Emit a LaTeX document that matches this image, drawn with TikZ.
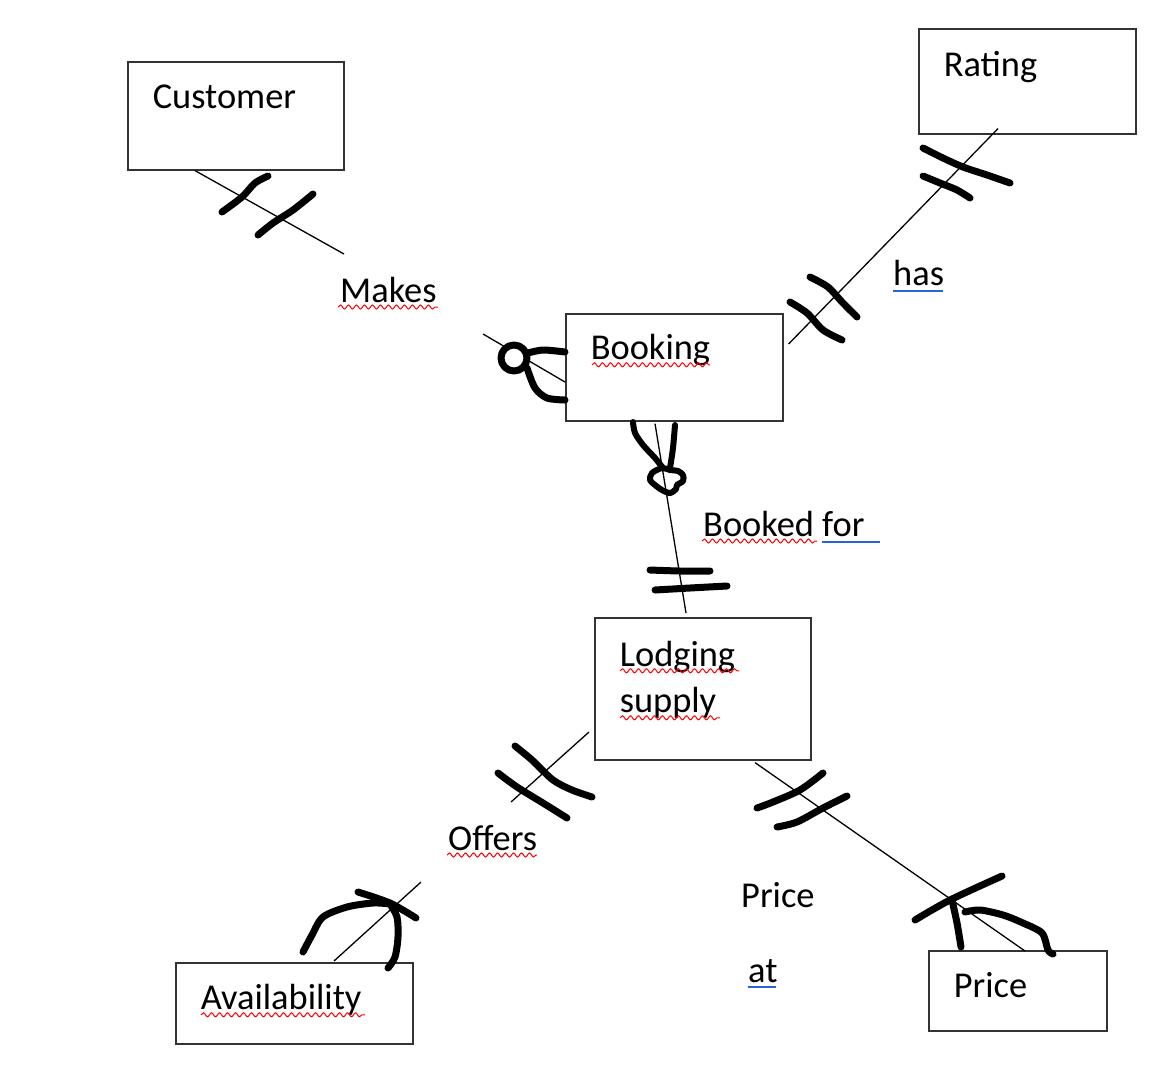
\documentclass[tikz,border=0pt]{standalone}
\usepackage{fontspec}
\setmainfont{Carlito}
\usetikzlibrary{calc,decorations.pathmorphing}
\definecolor{gramblue}{RGB}{40,100,215}

\tikzset{
  entity/.style={draw=black!80, line width=1.6pt, anchor=north west,
    inner xsep=25pt, inner ysep=0pt, align=left,
    font=\fontsize{36.4pt}{46pt}\selectfont},
  txt/.style={anchor=base west, inner sep=0pt, font=\fontsize{36.4pt}{46pt}\selectfont},
  link/.style={line width=1.3pt},
  ink/.style={line width=7pt, line cap=round, line join=round},
  spell/.style={draw=red, line width=1pt, decorate,
    decoration={snake, segment length=8pt, amplitude=2pt}},
  gram/.style={draw=gramblue, line width=1.2pt},
}

\begin{document}
\begin{tikzpicture}[x=1pt, y=-1pt]
    \useasboundingbox (0,0) rectangle (1175,1080);

    % --- Entities ---
    \node[entity, text width=166pt, text height=47pt, text depth=61pt] (cust) at (127,61) {Customer};
    \node[entity, text width=167pt, text height=48pt, text depth=57pt] (rating) at (918,28) {Rating};
    \node[entity, text width=167pt, text height=46pt, text depth=61pt] (book) at (565,313) {Booking};
    \node[entity, text width=166pt, text height=49pt, text depth=93pt] (lodge) at (594,617) {Lodging\\supply};
    \node[entity, text width=187pt, text height=47pt, text depth=34pt] (avail) at (175,962) {Availability};
    \node[entity, text width=128pt, text height=47pt, text depth=33pt] (price) at (928,950) {Price};

    % --- Relationship labels ---
    \node[txt] (makes) at (340,302) {Makes};
    \node[txt] (has) at (893,285) {has};
    \node[txt] (booked) at (703,536) {Booked for};
    \node[txt] (offers) at (448,850) {Offers};
    \node[txt] (pricelbl) at (741,907) {Price};
    \node[txt] (atlbl) at (748,982) {at};

    % --- Underlines ---
    \draw[spell] ($(makes.base west)+(-2,5)$) -- ($(makes.base west)+(98,5)$);
    \draw[spell] ($(book.base west)+(27,5)$) -- ($(book.base west)+(145,5)$);
    \draw[spell] ($(lodge.base west)+(26,4)$) -- ($(lodge.base west)+(145,4)$);
    \draw[spell] ($(lodge.base west)+(26,51)$) -- ($(lodge.base west)+(126,51)$);
    \draw[spell] ($(avail.base west)+(26,5)$) -- ($(avail.base west)+(190,5)$);
    \draw[spell] ($(offers.base west)+(-1,5)$) -- ($(offers.base west)+(89,5)$);
    \draw[spell] ($(booked.base west)+(-1,5)$) -- ($(booked.base west)+(114,5)$);
    \draw[gram] ($(booked.base west)+(119,6)$) -- ($(booked.base west)+(177,6)$);
    \draw[gram] ($(has.base west)+(0,6)$) -- ($(has.base west)+(50,6)$);
    \draw[gram] ($(atlbl.base west)+(0,5)$) -- ($(atlbl.base west)+(28,5)$);

    % --- Connectors ---
    \coordinate (mk1) at (344,254);
    \coordinate (mk2) at (483,334);
    \coordinate (of1) at (511,802);
    \coordinate (of2) at (421,882);
    \draw[link] ($(cust.south west)+(68,0)$) -- (mk1);
    \draw[link] (mk2) -- ($(book.north west)+(0,69)$);
    \draw[link] ($(book.south west)+(90,2)$) -- ($(lodge.north west)+(92,-4)$);
    \draw[link] ($(book.north east)+(5,31)$) -- ($(rating.south west)+(80,-6)$);
    \draw[link] ($(lodge.north west)+(-5,115)$) -- (of1);
    \draw[link] (of2) -- ($(avail.north west)+(159,-1)$);
    \draw[link] ($(lodge.south west)+(161,2)$) -- ($(price.north west)+(97,1)$);

    % --- Customer: one and only one ---
    \draw[ink] plot[smooth] coordinates {(222,212) (242,197) (255,183) (268,176)};
    \draw[ink] plot[smooth] coordinates {(258,235) (273,223) (293,210) (313,194)};

    % --- Booking (left): zero or many ---
    \draw[ink, fill=white] (514,358) circle (13);
    \draw[ink] plot[smooth] coordinates {(528,353) (543,350) (565,352)};
    \draw[ink] plot[smooth] coordinates {(527,368) (535,388) (547,398) (565,400)};

    % --- Booking (bottom): one or many ---
    \draw[ink, line width=6pt] plot[smooth] coordinates {(633,422) (635,433) (643,445) (655,458) (663,468)};
    \draw[ink, line width=6pt] plot[smooth] coordinates {(675,425) (673,448) (670,468)};
    \draw[ink, line width=6pt] plot[smooth cycle] coordinates {(662,468) (652,473) (650,480) (655,485) (662,490) (670,493) (676,489) (677,485) (683,481) (683,475) (678,471) (670,470)};

    % --- Lodging supply (top): one ---
    \draw[ink] plot[smooth] coordinates {(650,570) (680,571) (710,571)};
    \draw[ink] plot[smooth] coordinates {(655,590) (690,588) (727,586)};

    % --- Rating: one and only one ---
    \draw[ink] plot[smooth] coordinates {(923,148) (943,158) (963,167) (987,175) (1010,183)};
    \draw[ink] plot[smooth] coordinates {(923,176) (940,183) (957,190) (970,198)};

    % --- Booking (right): one and only one ---
    \draw[ink] plot[smooth] coordinates {(810,277) (828,287) (842,302) (857,317)};
    \draw[ink] plot[smooth] coordinates {(790,302) (807,313) (823,330) (842,340)};

    % --- Lodging supply (left): one and only one ---
    \draw[ink] plot[smooth] coordinates {(515,746) (532,760) (553,780) (572,790) (592,797)};
    \draw[ink] plot[smooth] coordinates {(498,773) (517,787) (543,803) (567,818)};

    % --- Lodging supply (right): one and only one ---
    \draw[ink] plot[smooth] coordinates {(757,808) (773,802) (800,790) (823,773)};
    \draw[ink] plot[smooth] coordinates {(777,827) (797,822) (823,808) (847,796)};

    % --- Availability: one or many ---
    \draw[ink] plot[smooth] coordinates {(358,892) (390,903) (416,918)};
    \draw[ink] plot[smooth] coordinates {(303,952) (312,935) (323,917) (347,907) (373,903) (390,904)};
    \draw[ink] plot[smooth] coordinates {(390,904) (397,917) (398,937) (395,957) (388,968)};

    % --- Price: one or many ---
    \draw[ink] plot[smooth] coordinates {(915,920) (950,900) (1002,876)};
    \draw[ink] plot[smooth] coordinates {(952,900) (957,923) (961,947)};
    \draw[ink] plot[smooth] coordinates {(965,912) (980,910) (1003,915) (1023,923) (1042,933) (1048,950) (1053,954)};

\end{tikzpicture}
\end{document}
